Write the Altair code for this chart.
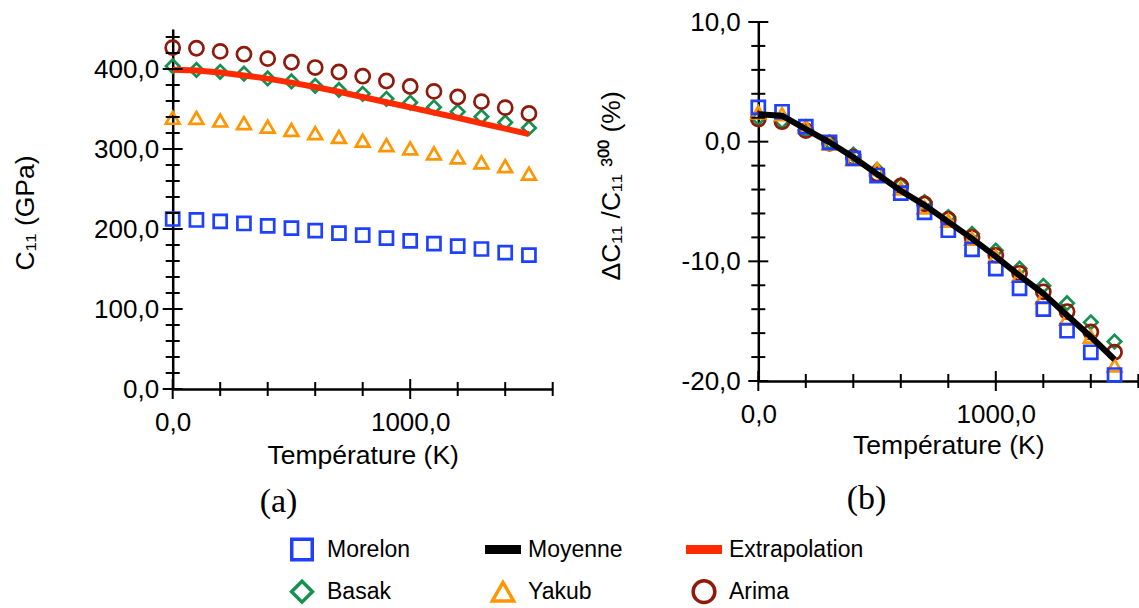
import altair as alt
import pandas as pd

# ---------------- data ----------------
temps = [0, 100, 200, 300, 400, 500, 600, 700, 800, 900, 1000, 1100, 1200, 1300, 1400, 1500]

# panel (a) : C11 (GPa)
morelon_c11 = [212.5, 211.3, 209.6, 206.9, 204.0, 201.0, 198.0, 194.8, 192.2, 188.5, 185.2, 181.8, 178.5, 175.0, 170.5, 167.3]
basak_c11 = [403.5, 398.8, 396.5, 394.2, 388.2, 384.5, 379.0, 373.8, 369.0, 362.7, 358.0, 352.1, 346.7, 340.4, 333.2, 326.3]
yakub_c11 = [339.0, 338.8, 335.6, 332.3, 327.9, 323.8, 319.8, 315.0, 310.4, 304.8, 300.8, 294.4, 289.6, 283.3, 278.5, 269.2]
arima_c11 = [426.7, 425.9, 422.0, 418.5, 413.0, 408.4, 401.8, 396.2, 391.0, 385.0, 378.1, 372.0, 365.0, 359.2, 351.7, 344.4]
extrap_c11 = [399.0, 398.0, 395.5, 392.0, 388.0, 383.0, 377.5, 371.5, 365.0, 358.5, 352.0, 345.5, 339.0, 332.0, 325.5, 318.5]

# panel (b) : Delta C11 / C11(300) (%)
morelon_pct = [2.86, 2.5, 1.25, -0.05, -1.39, -2.83, -4.3, -5.9, -7.4, -9.0, -10.6, -12.25, -14.0, -15.8, -17.6, -19.5]
basak_pct = [1.97, 1.7, 0.97, -0.05, -1.08, -2.36, -3.6, -5.05, -6.3, -7.7, -9.1, -10.6, -12.05, -13.5, -15.1, -16.7]
yakub_pct = [2.44, 2.3, 1.25, -0.14, -1.44, -2.3, -3.9, -5.5, -6.6, -8.1, -9.6, -11.2, -13.0, -14.8, -16.3, -18.7]
arima_pct = [1.9, 1.67, 0.92, -0.14, -1.3, -2.7, -3.7, -5.2, -6.5, -8.0, -9.5, -11.0, -12.55, -14.2, -15.9, -17.6]
moyenne_pct = [2.3, 2.17, 1.05, -0.05, -1.3, -2.7, -4.1, -5.3, -6.7, -8.1, -9.6, -11.2, -12.7, -14.5, -16.3, -18.2]

# axis ticks
xticks_major = [0, 1000]
xticks_minor = [200, 400, 600, 800, 1200, 1400, 1600]
yL_major = [0, 100, 200, 300, 400]
yL_minor = [20, 40, 60, 80, 120, 140, 160, 180, 220, 240, 260, 280, 320, 340, 360, 380, 420, 440]
yR_major = [-20, -10, 0, 10]
yR_minor = [-18, -16, -14, -12, -8, -6, -4, -2, 2, 4, 6, 8]

# legend
leg_labels = ["Morelon", "Moyenne", "Extrapolation", "Basak", "Yakub", "Arima"]
leg_col = [0, 1, 2, 0, 1, 2]
leg_row = [0, 0, 0, 1, 1, 1]

# ---------------- style ----------------
W, H = 1139, 608
FONT = "Liberation Sans"
BLUE = "#1e40ff"
GREEN = "#15914f"
ORANGE = "#ff9500"
DARKRED = "#8f1a0c"
RED = "#ff2a00"
BLACK = "#000000"

series_all = ["Morelon", "Basak", "Yakub", "Arima", "Moyenne", "Extrapolation"]
color_scale = alt.Scale(domain=series_all, range=[BLUE, GREEN, ORANGE, DARKRED, BLACK, RED])
shape_scale = alt.Scale(domain=["Morelon", "Basak", "Yakub", "Arima"],
                        range=["square", "diamond", "triangle-up", "circle"])

# pixel geometry of the two panels
LX0, LX1, LYB, LYT = 172.7, 552.7, 389.0, 29.0
RX0, RX1, RYB, RYT = 758.3, 1138.3, 381.0, 22.0

xL = alt.Scale(domain=[0, 1600], range=[LX0, LX1], nice=False, zero=False)
yL = alt.Scale(domain=[0, 450], range=[LYB, LYT], nice=False, zero=False)
xR = alt.Scale(domain=[0, 1600], range=[RX0, RX1], nice=False, zero=False)
yR = alt.Scale(domain=[-20, 10], range=[RYB, RYT], nice=False, zero=False)

label_expr = "datum.value + ',0'"


def x_axis(offset, title_y):
    return alt.Axis(orient="bottom", offset=offset, values=xticks_major, labelExpr=label_expr,
                    labelFont=FONT, labelFontSize=26, labelColor="black", labelPadding=33,
                    labelBaseline="middle", labelAlign="center", labelFlush=False, labelOverlap=False,
                    ticks=False, tickSize=0, grid=False, domain=True, domainColor="black",
                    domainWidth=2.5, title="Température (K)", titleFont=FONT, titleFontSize=26.5,
                    titleFontWeight="normal", titleColor="black", titleY=title_y,
                    titleBaseline="middle")


def y_axis(offset, values, pad, title, title_x, title_y):
    return alt.Axis(orient="left", offset=offset, values=values, labelExpr=label_expr,
                    labelFont=FONT, labelFontSize=26, labelColor="black", labelPadding=pad,
                    labelBaseline="middle", labelAlign="right", labelFlush=False, labelOverlap=False,
                    ticks=False, tickSize=0, grid=False, domain=True, domainColor="black",
                    domainWidth=2.5, title=title, titleFont=FONT, titleFontSize=26.5,
                    titleFontWeight="normal", titleColor="black", titleAngle=270,
                    titleX=title_x, titleY=title_y, titleAlign="left", titleBaseline="middle")


def caption_axis(offset, text, tx, ty):
    return alt.Axis(orient="bottom", offset=offset, domain=False, labels=False, ticks=False,
                    grid=False, title=text, titleFont="Liberation Serif", titleFontSize=34,
                    titleFontWeight="normal", titleColor="black", titleX=tx, titleY=ty,
                    titleBaseline="middle", titleAlign="center")


def points_df(values_by_series):
    rows = []
    for name, vals in values_by_series:
        for t, v in zip(temps, vals):
            rows.append({"T": t, "v": v, "series": name})
    return pd.DataFrame(rows)


def panel(df_pts, line_vals, line_color, xs, ys, xax, yax, pt_sizes):
    size_scale = alt.Scale(domain=["Morelon", "Basak", "Yakub", "Arima"], range=pt_sizes)
    pts = alt.Chart(df_pts).mark_point(filled=False, strokeWidth=2.7, opacity=1).encode(
        x=alt.X("T:Q", scale=xs, axis=xax),
        y=alt.Y("v:Q", scale=ys, axis=yax),
        color=alt.Color("series:N", scale=color_scale, legend=None),
        shape=alt.Shape("series:N", scale=shape_scale, legend=None),
        size=alt.Size("series:N", scale=size_scale, legend=None),
    )
    line = alt.Chart(pd.DataFrame({"T": temps, "v": line_vals})).mark_line(
        color=line_color, strokeWidth=6).encode(
        x=alt.X("T:Q", scale=xs, axis=xax),
        y=alt.Y("v:Q", scale=ys, axis=yax),
    )
    return alt.layer(pts, line)


def ticks_layer(xs, ys, y_major, y_minor, y_base, cap_axis):
    def tk(tvals, vvals, orient, length):
        return alt.Chart(pd.DataFrame({"T": tvals, "v": vvals})).mark_tick(
            orient=orient, size=length, thickness=2, color="black", opacity=1).encode(
            x=alt.X("T:Q", scale=xs, axis=cap_axis),
            y=alt.Y("v:Q", scale=ys, axis=None),
        )
    return alt.layer(
        tk([0] * len(y_major), y_major, "horizontal", 20),
        tk([0] * len(y_minor), y_minor, "horizontal", 14),
        tk(xticks_major, [y_base] * len(xticks_major), "vertical", 20),
        tk(xticks_minor, [y_base] * len(xticks_minor), "vertical", 14),
    )


left_pts = points_df([("Basak", basak_c11), ("Arima", arima_c11), ("Yakub", yakub_c11), ("Morelon", morelon_c11)])
right_pts = points_df([("Basak", basak_pct), ("Arima", arima_pct), ("Yakub", yakub_pct), ("Morelon", morelon_pct)])

PT_SIZES = [170, 200, 185, 150]

left_main = panel(left_pts, extrap_c11, RED, xL, yL,
                  x_axis(-(H - LYB), 66),
                  y_axis(-LX0, yL_major, 14, "C₁₁ (GPa)", 25 - LX0, 270),
                  PT_SIZES)
left_ticks = ticks_layer(xL, yL, yL_major, yL_minor, 0,
                         caption_axis(-(H - LYB), "(a)", 278, 501.7 - LYB))

right_main = panel(right_pts, moyenne_pct, BLACK, xR, yR,
                   x_axis(-(H - RYB), 64),
                   y_axis(-RX0, yR_major, 18, "ΔC₁₁ /C₁₁  ³⁰⁰  (%)", 611 - RX0, 280),
                   PT_SIZES)
right_ticks = ticks_layer(xR, yR, yR_major, yR_minor, -20,
                          caption_axis(-(H - RYB), "(b)", 866, 498.3 - RYB))

# ---------------- legend ----------------
leg_df = pd.DataFrame({"series": leg_labels, "col": leg_col, "row": leg_row})
xLg = alt.Scale(domain=[0, 2], range=[302, 704], nice=False, zero=False)
yLg = alt.Scale(domain=[0, 1], range=[549.5, 591.7], nice=False, zero=False)
leg_size = alt.Scale(domain=["Morelon", "Basak", "Yakub", "Arima"], range=[420, 470, 484, 380])

leg_x = alt.X("col:Q", scale=xLg, axis=None)
leg_y = alt.Y("row:Q", scale=yLg, axis=None)
leg_sym = alt.Chart(leg_df).transform_filter(
    alt.FieldOneOfPredicate(field="series", oneOf=["Morelon", "Basak", "Yakub", "Arima"])
).mark_point(filled=False, strokeWidth=3.5, opacity=1).encode(
    x=leg_x, y=leg_y,
    color=alt.Color("series:N", scale=color_scale, legend=None),
    shape=alt.Shape("series:N", scale=shape_scale, legend=None),
    size=alt.Size("series:N", scale=leg_size, legend=None),
)
leg_lines = alt.Chart(leg_df).transform_filter(
    alt.FieldOneOfPredicate(field="series", oneOf=["Moyenne", "Extrapolation"])
).mark_tick(orient="horizontal", size=36, thickness=9, opacity=1).encode(
    x=leg_x, y=leg_y,
    color=alt.Color("series:N", scale=color_scale, legend=None),
)
leg_text = alt.Chart(leg_df).mark_text(align="left", baseline="middle", dx=25, font=FONT,
                                       fontSize=23, color="black").encode(
    x=leg_x, y=leg_y, text="series:N")
legend = alt.layer(leg_sym, leg_lines, leg_text)

chart = alt.layer(left_main, left_ticks, right_main, right_ticks, legend).resolve_scale(
    x="independent", y="independent", size="independent"
).properties(
    width=W, height=H, padding=0, autosize=alt.AutoSizeParams(type="none"),
    background="white",
).configure_view(stroke=None)

chart.save("out.html", embed_options={"renderer": "svg", "actions": False})
